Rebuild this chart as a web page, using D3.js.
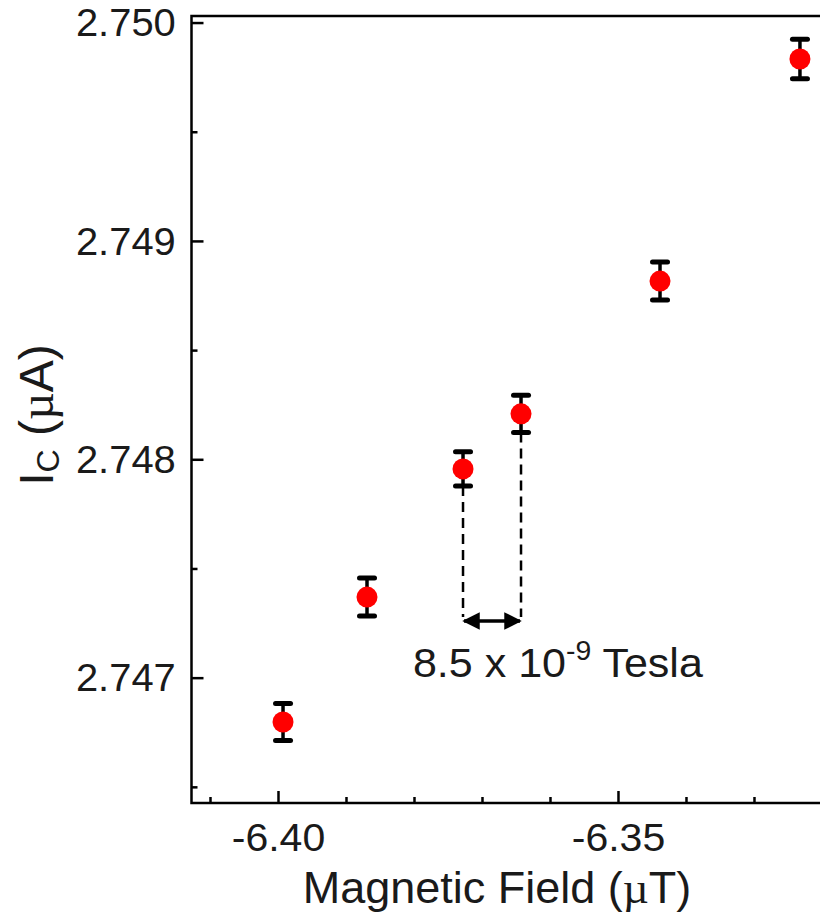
<!DOCTYPE html>
<html>
<head>
<meta charset="utf-8">
<script src="https://cdn.jsdelivr.net/npm/d3@7"></script>
<style>
  html, body { margin: 0; padding: 0; background: #fff; overflow: hidden; }
  svg { display: block; font-family: "Liberation Sans", Arial, sans-serif; }
</style>
</head>
<body>
<svg id="chart" width="820" height="915"></svg>
<script>
// ---- data ----
const fieldValues   = [-6.39926, -6.38691, -6.37279, -6.36426, -6.34382, -6.32324]; // µT
const currentValues = [2.746797, 2.747369, 2.747956, 2.748208, 2.748816, 2.749833]; // µA
const errorValues   = [0.000085, 0.000087, 0.000078, 0.000085, 0.000087, 0.000090]; // µA
const xTickValues   = [-6.40, -6.35];
const xMinorTicks   = [-6.41, -6.39, -6.38, -6.37, -6.36, -6.34, -6.33, -6.32];
const yTickValues   = [2.747, 2.748, 2.749, 2.750];
const yMinorTicks   = [2.7465, 2.7475, 2.7485, 2.7495];
const xDomain = [-6.41272, -6.31735];
const yDomain = [2.746426, 2.75003];
const annotationIdx = [2, 3]; // the two points separated by 8.5e-9 T

(function () {
// ---- layout ----
const mLeft = 191.5, mBottom = 803, mTop = 16, mRight = 840;
const svg = d3.select("#chart");

const x = d3.scaleLinear().domain(xDomain).range([mLeft, mRight]);
const y = d3.scaleLinear().domain(yDomain).range([mBottom, mTop]);

// frame
svg.append("rect")
  .attr("x", mLeft).attr("y", mTop)
  .attr("width", mRight - mLeft).attr("height", mBottom - mTop)
  .attr("fill", "none").attr("stroke", "#000").attr("stroke-width", 2.5);

// bottom axis (ticks inward)
const xAxis = d3.axisBottom(x).tickValues(xTickValues).tickSize(-12)
  .tickFormat(d3.format(".2f")).tickSizeOuter(0);
const gx = svg.append("g").attr("transform", `translate(0,${mBottom})`).call(xAxis);
gx.select(".domain").remove();
gx.selectAll(".tick line").attr("stroke", "#000").attr("stroke-width", 2.5);
gx.selectAll(".tick text").attr("font-size", 38).attr("fill", "#1a1a1a")
  .attr("y", 21).attr("dy", "0.71em")
  .attr("transform", "scale(1.08,1)")
  .text(d => d3.format(".2f")(d).replace("−", "-"));

const gxm = svg.append("g").attr("transform", `translate(0,${mBottom})`)
  .call(d3.axisBottom(x).tickValues(xMinorTicks).tickSize(-6).tickFormat("").tickSizeOuter(0));
gxm.select(".domain").remove();
gxm.selectAll(".tick line").attr("stroke", "#000").attr("stroke-width", 2.5);

// left axis (ticks inward)
const yAxis = d3.axisLeft(y).tickValues(yTickValues).tickSize(-12)
  .tickFormat(d3.format(".3f")).tickSizeOuter(0);
const gy = svg.append("g").attr("transform", `translate(${mLeft},0)`).call(yAxis);
gy.select(".domain").remove();
gy.selectAll(".tick line").attr("stroke", "#000").attr("stroke-width", 2.5);
gy.selectAll(".tick text").attr("font-size", 38).attr("fill", "#1a1a1a")
  .attr("x", -15).attr("dy", "0.35em")
  .attr("transform", "scale(1.05,1)");

const gym = svg.append("g").attr("transform", `translate(${mLeft},0)`)
  .call(d3.axisLeft(y).tickValues(yMinorTicks).tickSize(-6).tickFormat("").tickSizeOuter(0));
gym.select(".domain").remove();
gym.selectAll(".tick line").attr("stroke", "#000").attr("stroke-width", 2.5);

// axis titles
const xt = svg.append("text")
  .attr("x", 497).attr("y", 903)
  .attr("text-anchor", "middle").attr("font-size", 45).attr("fill", "#1a1a1a");
xt.append("tspan").text("Magnetic Field (");
xt.append("tspan").attr("font-family", "Liberation Serif, serif").text("µ");
xt.append("tspan").text("T)");

const yt = svg.append("text")
  .attr("transform", "translate(53,415) rotate(-90)")
  .attr("text-anchor", "middle").attr("font-size", 48).attr("fill", "#1a1a1a");
yt.append("tspan").text("I");
yt.append("tspan").attr("font-size", 32).attr("dy", 6).text("C");
yt.append("tspan").attr("dy", -6).text(" (");
yt.append("tspan").attr("font-family", "Liberation Serif, serif").text("µ");
yt.append("tspan").text("A)");

// annotation: dashed guides + double arrow
const defs = svg.append("defs");
["arrowEnd", "arrowStart"].forEach((id, i) => {
  defs.append("marker").attr("id", id)
    .attr("viewBox", "0 0 10 10").attr("refX", 9).attr("refY", 5)
    .attr("markerWidth", 5).attr("markerHeight", 5)
    .attr("orient", i === 0 ? "auto" : "auto-start-reverse")
    .append("path").attr("d", "M0,0 L10,5 L0,10 z").attr("fill", "#000");
});

const arrowY = 621;
annotationIdx.forEach(i => {
  svg.append("line")
    .attr("x1", x(fieldValues[i])).attr("x2", x(fieldValues[i]))
    .attr("y1", y(currentValues[i] - errorValues[i])).attr("y2", arrowY - 4)
    .attr("stroke", "#000").attr("stroke-width", 2.5).attr("stroke-dasharray", "10,6");
});
svg.append("line")
  .attr("x1", x(fieldValues[annotationIdx[0]]) + 1).attr("x2", x(fieldValues[annotationIdx[1]]) - 1)
  .attr("y1", arrowY).attr("y2", arrowY)
  .attr("stroke", "#000").attr("stroke-width", 3.5)
  .attr("marker-end", "url(#arrowEnd)").attr("marker-start", "url(#arrowStart)");

const at = svg.append("text")
  .attr("x", 413).attr("y", 677)
  .attr("font-size", 41).attr("fill", "#1a1a1a")
  .attr("transform", "translate(-20.7,0) scale(1.05,1)");
at.append("tspan").text("8.5 x 10");
at.append("tspan").attr("font-size", 27).attr("dy", -17).text("-9");
at.append("tspan").attr("dy", 17).text(" Tesla");

// error bars
const capW = 7.5;
const eb = svg.append("g");
fieldValues.forEach((fv, i) => {
  const cx = x(fv), lo = y(currentValues[i] - errorValues[i]), hi = y(currentValues[i] + errorValues[i]);
  eb.append("line").attr("x1", cx).attr("x2", cx).attr("y1", lo).attr("y2", hi)
    .attr("stroke", "#000").attr("stroke-width", 3.5);
  [lo, hi].forEach(v => {
    eb.append("line").attr("x1", cx - capW).attr("x2", cx + capW).attr("y1", v).attr("y2", v)
      .attr("stroke", "#000").attr("stroke-width", 5).attr("stroke-linecap", "round");
  });
});

// points
svg.append("g").selectAll("circle")
  .data(fieldValues)
  .join("circle")
  .attr("cx", d => x(d))
  .attr("cy", (d, i) => y(currentValues[i]))
  .attr("r", 10.5)
  .attr("fill", "#f00");
})();
</script>
</body>
</html>
